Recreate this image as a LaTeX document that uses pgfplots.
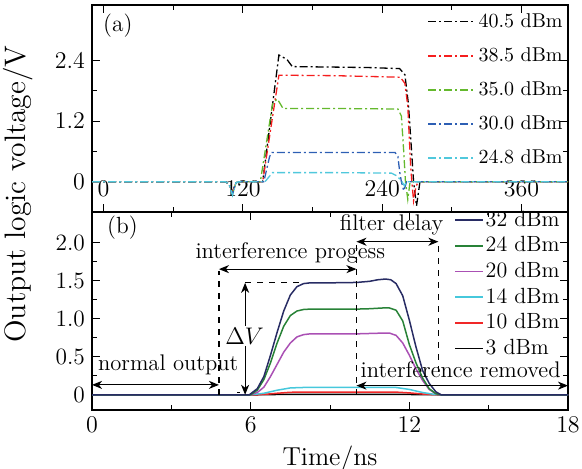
\documentclass[border=0pt]{standalone}
\usepackage{pgfplots}
\pgfplotsset{compat=1.18}
\usetikzlibrary{arrows.meta}
\definecolor{cRed}{RGB}{245,30,30}
\definecolor{cGreen}{RGB}{100,185,45}
\definecolor{cBlue}{RGB}{45,95,180}
\definecolor{cCyan}{RGB}{80,200,220}
\definecolor{bNavy}{RGB}{40,44,100}
\definecolor{bGreen}{RGB}{40,130,55}
\definecolor{bPurple}{RGB}{170,80,180}
\definecolor{bCyan}{RGB}{70,200,220}
\definecolor{bRed}{RGB}{240,40,40}
\begin{document}
\begin{tikzpicture}
\path[use as bounding box] (-46pt,-29pt) rectangle (245pt,205pt);
\pgfplotsset{
  every axis/.append style={scale only axis, width=238pt,
    axis line style={line width=0.6pt},
    every tick/.style={line width=0.5pt, black},
    major tick length=4pt, minor tick length=2.5pt,
    tick label style={font=\fontsize{11.7}{14}\selectfont},
    tick align=inside},
  dd/.style={line width=0.65pt, dash pattern=on 4pt off 1.5pt on 1pt off 1.5pt},
}
% ---------------- panel (a)
\begin{axis}[at={(0,99pt)}, anchor=south west, height=103.5pt,
  xmin=-10, xmax=400, ymin=-0.6, ymax=3.5,
  xtick={0,120,240,360}, ytick={0,1.2,2.4},
  minor x tick num=1, minor y tick num=1,
  xticklabel style={anchor=south, yshift=4.3pt},
  legend cell align=left,
  legend style={draw=none, fill=none, at={(rel axis cs:0.993,0.976)}, anchor=north east,
    font=\fontsize{10}{12}\selectfont, row sep=5.6pt, inner sep=0pt,
    nodes={inner xsep=0.8pt, inner ysep=1.5pt}},
  legend image code/.code={\draw[#1] (0pt,0pt) -- (24pt,0pt);}]
\addplot[dd, black] coordinates {(-10,0) (105,0) (108,-0.05) (111,-0.2) (114,-0.02) (117,0) (137,0) (151,2.51) (158,2.42) (162.5,2.28) (200,2.27) (230,2.26) (255,2.24) (259.5,2.12) (262.5,1.55) (265,0.7) (267,0) (269.5,-0.48) (272.5,0) (400,0)};
\addlegendentry{40.5 dBm}
\addplot[dd, cRed] coordinates {(-10,0) (105,0) (108,-0.05) (111,-0.22) (114,-0.02) (117,0) (137,0) (151,2.11) (200,2.10) (255.5,2.07) (259.5,1.95) (262,1.5) (264.5,0.3) (265.5,0) (267,-0.38) (269,-0.1) (271,0) (400,0)};
\addlegendentry{38.5 dBm}
\addplot[dd, cGreen] coordinates {(-10,0) (105,0) (108,-0.05) (111,-0.24) (114,-0.02) (117,0) (135,0) (145.5,1.54) (149.5,1.64) (152,1.55) (154.5,1.45) (200,1.45) (253.5,1.44) (256.5,1.3) (258.5,0.6) (260,0) (262,-0.35) (264,0) (400,0)};
\addlegendentry{35.0 dBm}
\addplot[dd, cBlue] coordinates {(-10,0) (105,0) (108,-0.05) (111,-0.25) (114,-0.02) (117,0) (138,0) (143,0.5) (145,0.58) (200,0.58) (251,0.58) (253.5,0.5) (255,0.2) (256.5,0) (258.5,-0.18) (261,0) (400,0)};
\addlegendentry{30.0 dBm}
\addplot[dd, cCyan] coordinates {(-10,0) (105,0) (108,-0.05) (111,-0.27) (114,-0.02) (117,0) (139,0) (145.5,0.18) (200,0.18) (248,0.17) (253,0.11) (257,0) (259,-0.08) (261,0) (400,0)};
\addlegendentry{24.8 dBm}
\node[font=\fontsize{11.7}{14}\selectfont] at (axis cs:12.3,3.1) {(a)};
\end{axis}
% ---------------- panel (b)
\begin{axis}[at={(0,0)}, anchor=south west, height=99pt,
  xmin=0, xmax=18, ymin=-0.2, ymax=2.4,
  xtick={0,6,12,18}, ytick={0,0.5,1,1.5,2}, yticklabels={0,0.5,1.0,1.5,2.0},
  minor x tick num=1, minor y tick num=1,
  xlabel={Time/ns}, xlabel style={font=\fontsize{13}{15}\selectfont},
  reverse legend, legend cell align=left,
  legend style={draw=none, fill=none, at={(rel axis cs:0.9866,1.022)}, anchor=north east,
    font=\fontsize{11}{13}\selectfont, row sep=0.7pt, inner sep=0pt,
    nodes={inner xsep=0.8pt, inner ysep=1.5pt}},
  legend image code/.code={\draw[#1] (0pt,0pt) -- (14pt,0pt);}]
\addplot[line width=0.75pt, black] coordinates {(0,0) (6.2,0) (7,0.004) (8,0.006) (11.5,0.006) (12.5,0.002) (13.2,0) (18,0)};
\addlegendentry{3 dBm}
\addplot[line width=0.75pt, bRed] coordinates {(0,0) (6.25,0) (6.6,0.008) (7,0.02) (7.5,0.033) (8,0.035) (11.5,0.035) (12,0.025) (12.5,0.01) (13,0) (18,0)};
\addlegendentry{10 dBm}
\addplot[line width=0.75pt, bCyan] coordinates {(0,0) (6.0,0) (6.5,0.02) (7,0.06) (7.5,0.09) (8,0.096) (11.5,0.096) (12,0.07) (12.5,0.03) (13,0.002) (13.2,0) (18,0)};
\addlegendentry{14 dBm}
\addplot[line width=0.75pt, bPurple] coordinates {(0,0) (6.0,0) (6.25,0.03) (6.5,0.1) (6.75,0.24) (7,0.4) (7.25,0.56) (7.5,0.68) (7.75,0.76) (8,0.79) (8.25,0.8) (9,0.8) (10,0.8) (10.5,0.805) (11,0.81) (11.25,0.81) (11.5,0.78) (11.75,0.68) (12,0.52) (12.25,0.34) (12.5,0.19) (12.75,0.07) (13,0.015) (13.2,0) (18,0)};
\addlegendentry{20 dBm}
\addplot[line width=0.75pt, bGreen] coordinates {(0,0) (6.0,0) (6.25,0.06) (6.5,0.2) (6.75,0.42) (7,0.68) (7.25,0.9) (7.5,1.04) (7.75,1.1) (8,1.12) (8.25,1.125) (9,1.125) (10,1.125) (10.5,1.13) (11,1.14) (11.25,1.14) (11.5,1.11) (11.75,0.97) (12,0.66) (12.25,0.42) (12.5,0.22) (12.75,0.08) (13,0.015) (13.2,0) (18,0)};
\addlegendentry{24 dBm}
\addplot[line width=0.75pt, bNavy] coordinates {(0,0) (5.95,0) (6.25,0.08) (6.5,0.24) (6.75,0.52) (7,0.82) (7.25,1.1) (7.5,1.31) (7.75,1.42) (8,1.46) (8.25,1.47) (9,1.47) (10,1.475) (10.5,1.49) (10.8,1.51) (11.1,1.52) (11.3,1.51) (11.5,1.46) (11.75,1.30) (12,0.98) (12.25,0.63) (12.5,0.32) (12.75,0.15) (13,0.04) (13.2,0) (18,0)};
\addlegendentry{32 dBm}
% annotations
\begin{scope}[font=\fontsize{11.3}{13.5}\selectfont, >={Stealth[length=5pt,width=4pt,inset=1.5pt]}, line width=0.6pt]
\draw[dashed] (axis cs:4.8,0) -- (axis cs:4.8,1.62);
\draw[<->] (axis cs:4.8,1.65) -- (axis cs:10,1.65);
\node at (axis cs:7.5,1.86) {interference progess};
\draw[dashed] (axis cs:10,0) -- (axis cs:10,2.0);
\draw[<->] (axis cs:10,2.01) -- (axis cs:13.1,2.01);
\node at (axis cs:11.33,2.23) {filter delay};
\draw[dashed] (axis cs:13.1,0.3) -- (axis cs:13.1,2.0);
\draw[dashed] (axis cs:5.79,1.47) -- (axis cs:8.0,1.47);
\draw[<->] (axis cs:5.79,0) -- (axis cs:5.79,1.47);
\node[fill=white, inner sep=1pt, font=\fontsize{12.5}{14}\selectfont] at (axis cs:5.77,0.77) {$\Delta V$};
\draw (axis cs:5.5,0.03) -- (axis cs:5.6,0.03);
\draw[<->] (axis cs:0,0.13) -- (axis cs:4.8,0.13);
\node at (axis cs:2.88,0.39) {normal output};
\draw[<->] (axis cs:10,0.12) -- (axis cs:18,0.12);
\node at (axis cs:13.94,0.33) {interference removed};
\node[font=\fontsize{11.7}{14}\selectfont] at (axis cs:1.15,2.2) {(b)};
\end{scope}
\end{axis}
\node[rotate=90, font=\fontsize{14.8}{17}\selectfont] at (-37pt,108pt) {Output logic voltage/V};
\end{tikzpicture}
\end{document}
